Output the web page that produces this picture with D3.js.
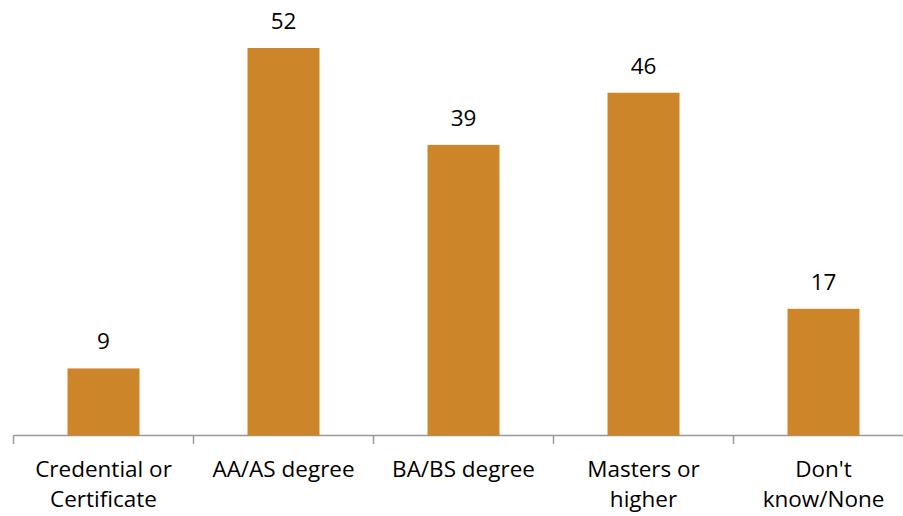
<!DOCTYPE html>
<html>
<head>
<meta charset="utf-8">
<script src="https://cdn.jsdelivr.net/npm/d3@7"></script>
<style>
  html, body { margin: 0; padding: 0; background: #fff; }
  svg { display: block; font-family: "Open Sans", Lato, sans-serif; }
</style>
</head>
<body>
<svg id="chart" width="903" height="516"></svg>
<script>
// Share of respondents by highest education level
const categories = ["Credential or\nCertificate", "AA/AS degree", "BA/BS degree", "Masters or\nhigher", "Don't\nknow/None"];
const values = [9, 52, 39, 46, 17];

const svg = d3.select("#chart");
const barColor = "#CD852A";
const fontSize = 22.5;

const x = d3.scaleBand()
  .domain(categories)
  .range([13.5, 913.5])
  .paddingInner(0.6)
  .paddingOuter(0.3);

const y = d3.scaleLinear()
  .domain([0, 52])
  .range([435.5, 48]);

// category axis: baseline with tick marks on band boundaries
const axis = svg.append("g");
axis.append("line")
  .attr("x1", 13.5).attr("x2", 903)
  .attr("y1", 435.5).attr("y2", 435.5)
  .attr("stroke", "#999").attr("stroke-width", 1.5);

axis.selectAll("line.tick")
  .data(d3.range(categories.length + 1).map(i => 13.5 + i * 180))
  .join("line")
  .attr("class", "tick")
  .attr("x1", d => d).attr("x2", d => d)
  .attr("y1", 435.5).attr("y2", 444)
  .attr("stroke", "#999").attr("stroke-width", 1.5);

// bars
svg.selectAll("rect.bar")
  .data(values)
  .join("rect")
  .attr("class", "bar")
  .attr("x", (d, i) => x(categories[i]))
  .attr("width", x.bandwidth())
  .attr("y", d => y(d))
  .attr("height", d => y(0) - y(d))
  .attr("fill", barColor);

// value labels
svg.selectAll("text.value")
  .data(values)
  .join("text")
  .attr("class", "value")
  .attr("x", (d, i) => x(categories[i]) + x.bandwidth() / 2)
  .attr("y", d => y(d) - 19)
  .attr("text-anchor", "middle")
  .attr("font-size", fontSize)
  .attr("fill", "#000")
  .text(d => d);

// category labels, wrapped on explicit line breaks
const labels = svg.selectAll("text.cat")
  .data(categories)
  .join("text")
  .attr("class", "cat")
  .attr("text-anchor", "middle")
  .attr("font-size", fontSize)
  .attr("fill", "#000")
  .attr("transform", d => `translate(${x(d) + x.bandwidth() / 2},477)`);

labels.each(function(d) {
  const t = d3.select(this);
  d.split("\n").forEach((line, i) => {
    t.append("tspan").attr("x", 0).attr("y", i * 30).text(line);
  });
});
</script>
</body>
</html>
